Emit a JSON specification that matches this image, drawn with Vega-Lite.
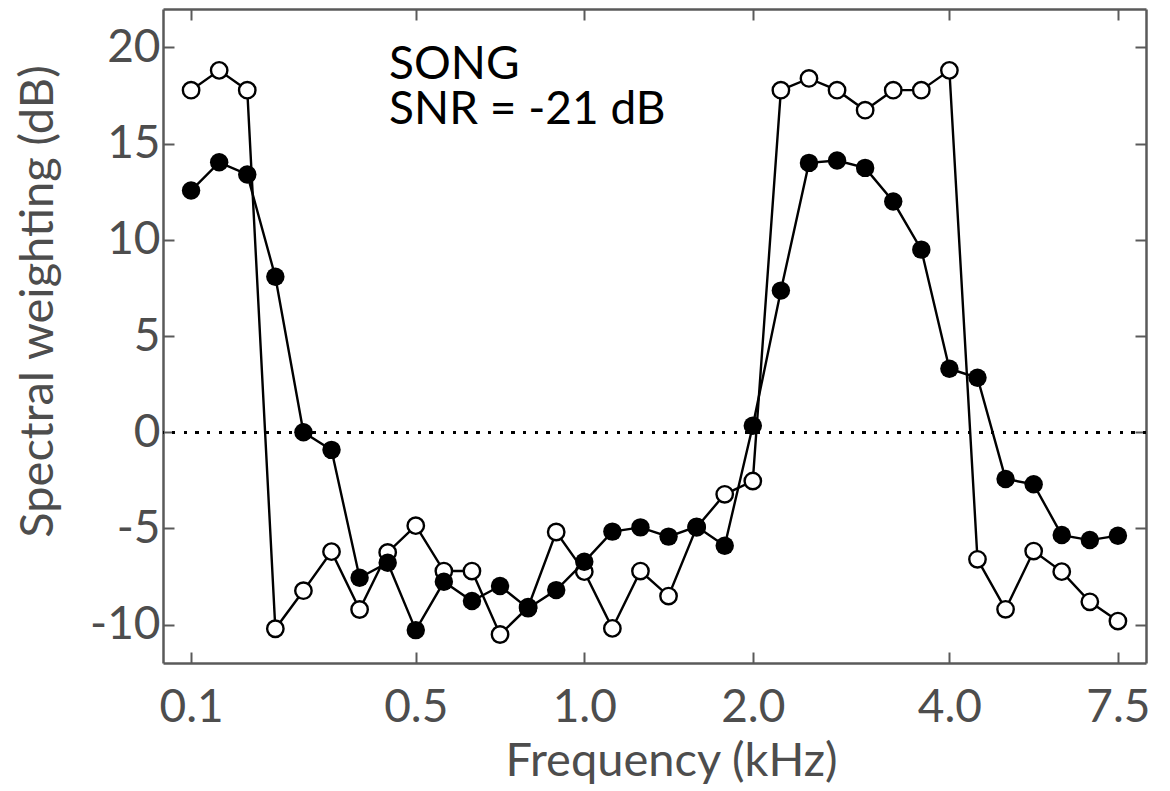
{
  "$schema": "https://vega.github.io/schema/vega-lite/v6.json",
  "autosize": {"type": "none"},
  "padding": {"left": 163, "top": 9, "right": 24, "bottom": 128},
  "width": 983,
  "height": 654,
  "background": "white",
  "view": {"stroke": null},
  "config": {
    "font": "Lato",
    "axis": {
      "domainColor": "#5a5a5a",
      "domainWidth": 2.5,
      "tickColor": "#5a5a5a",
      "tickWidth": 2,
      "tickSize": -11,
      "labelColor": "#4d4d4d",
      "labelFont": "Lato",
      "labelFontSize": 46,
      "titleColor": "#4d4d4d",
      "titleFont": "Lato",
      "titleFontSize": 47,
      "titleFontWeight": "normal",
      "grid": false
    }
  },
  "data": {
    "values": [
      {"i": 0, "filled": 12.56, "open": 17.78},
      {"i": 1, "filled": 14.03, "open": 18.81},
      {"i": 2, "filled": 13.4, "open": 17.78},
      {"i": 3, "filled": 8.08, "open": -10.22},
      {"i": 4, "filled": 0.0, "open": -8.24},
      {"i": 5, "filled": -0.92, "open": -6.21},
      {"i": 6, "filled": -7.57, "open": -9.22},
      {"i": 7, "filled": -6.79, "open": -6.25},
      {"i": 8, "filled": -10.29, "open": -4.86},
      {"i": 9, "filled": -7.78, "open": -7.22},
      {"i": 10, "filled": -8.78, "open": -7.22},
      {"i": 11, "filled": -8.0, "open": -10.52},
      {"i": 12, "filled": -9.16, "open": -9.1},
      {"i": 13, "filled": -8.21, "open": -5.19},
      {"i": 14, "filled": -6.74, "open": -7.25},
      {"i": 15, "filled": -5.17, "open": -10.2},
      {"i": 16, "filled": -4.95, "open": -7.22},
      {"i": 17, "filled": -5.43, "open": -8.52},
      {"i": 18, "filled": -4.91, "open": -4.95},
      {"i": 19, "filled": -5.9, "open": -3.23},
      {"i": 20, "filled": 0.33, "open": -2.54},
      {"i": 21, "filled": 7.36, "open": 17.78},
      {"i": 22, "filled": 14.0, "open": 18.39},
      {"i": 23, "filled": 14.12, "open": 17.78},
      {"i": 24, "filled": 13.74, "open": 16.74},
      {"i": 25, "filled": 11.99, "open": 17.78},
      {"i": 26, "filled": 9.49, "open": 17.78},
      {"i": 27, "filled": 3.3, "open": 18.81},
      {"i": 28, "filled": 2.83, "open": -6.61},
      {"i": 29, "filled": -2.43, "open": -9.21},
      {"i": 30, "filled": -2.71, "open": -6.18},
      {"i": 31, "filled": -5.35, "open": -7.25},
      {"i": 32, "filled": -5.61, "open": -8.82},
      {"i": 33, "filled": -5.38, "open": -9.82}
    ]
  },
  "resolve": {"axis": {"x": "independent", "y": "independent"}},
  "layer": [
    {
      "mark": {"type": "rule", "color": "black", "strokeWidth": 2.5, "strokeDash": [2.5, 9.2]},
      "encoding": {
        "y": {"datum": 0, "type": "quantitative", "scale": {"domain": [-12, 22], "nice": false, "zero": false}, "axis": null}
      }
    },
    {
      "mark": {"type": "line", "color": "black", "strokeWidth": 2.4},
      "encoding": {
        "x": {"field": "i", "type": "quantitative", "scale": {"domain": [-1, 34], "nice": false, "zero": false},
              "axis": {"orient": "top", "values": [0, 8, 14, 20, 27, 33], "labels": false, "title": null}},
        "y": {"field": "open", "type": "quantitative", "scale": {"domain": [-12, 22], "nice": false, "zero": false},
              "axis": {"orient": "right", "values": [-10, -5, 0, 5, 10, 15, 20], "labels": false, "title": null}}
      }
    },
    {
      "mark": {"type": "point", "shape": "circle", "filled": true, "fill": "white", "stroke": "black", "strokeWidth": 2.4, "size": 270, "opacity": 1},
      "encoding": {
        "x": {"field": "i", "type": "quantitative", "axis": null},
        "y": {"field": "open", "type": "quantitative", "axis": null}
      }
    },
    {
      "mark": {"type": "line", "color": "black", "strokeWidth": 2.4},
      "encoding": {
        "x": {"field": "i", "type": "quantitative",
              "axis": {"orient": "bottom", "values": [0, 8, 14, 20, 27, 33], "labelPadding": 33,
                       "labelExpr": "datum.value == 0 ? '0.1' : datum.value == 8 ? '0.5' : datum.value == 14 ? '1.0' : datum.value == 20 ? '2.0' : datum.value == 27 ? '4.0' : '7.5'",
                       "title": "Frequency (kHz)", "titleX": 508, "titleY": 112, "titleBaseline": "alphabetic", "titleAlign": "center"}},
        "y": {"field": "filled", "type": "quantitative",
              "axis": {"orient": "left", "values": [-10, -5, 0, 5, 10, 15, 20], "labelPadding": 14,
                       "labelExpr": "'' + datum.value",
                       "title": "Spectral weighting (dB)", "titleX": -111, "titleY": 292, "titleAngle": -90, "titleBaseline": "alphabetic", "titleAlign": "center"}}
      }
    },
    {
      "mark": {"type": "circle", "color": "black", "size": 340, "opacity": 1},
      "encoding": {
        "x": {"field": "i", "type": "quantitative", "axis": null},
        "y": {"field": "filled", "type": "quantitative", "axis": null}
      }
    },
    {
      "data": {"values": [{"note": "SONG"}]},
      "mark": {"type": "text", "align": "left", "baseline": "alphabetic", "font": "Lato", "fontSize": 46, "color": "black"},
      "encoding": {
        "x": {"datum": 7.05, "type": "quantitative", "axis": null},
        "y": {"datum": 18.34, "type": "quantitative", "axis": null},
        "text": {"field": "note"}
      }
    },
    {
      "data": {"values": [{"note": "SNR = -21 dB"}]},
      "mark": {"type": "text", "align": "left", "baseline": "alphabetic", "font": "Lato", "fontSize": 46, "color": "black"},
      "encoding": {
        "x": {"datum": 7.05, "type": "quantitative", "axis": null},
        "y": {"datum": 16.0, "type": "quantitative", "axis": null},
        "text": {"field": "note"}
      }
    }
  ]
}
